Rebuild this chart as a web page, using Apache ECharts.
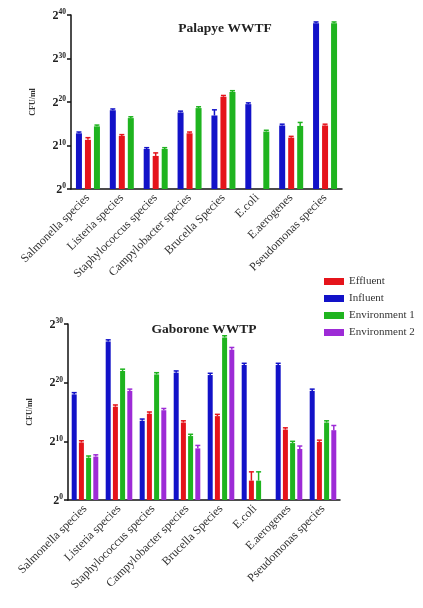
<!DOCTYPE html>
<html><head><meta charset="utf-8">
<script src="https://cdn.jsdelivr.net/npm/echarts@6/dist/echarts.min.js"></script>
<style>html,body{margin:0;padding:0;background:#fff}#c{width:423px;height:608px}</style>
</head><body><div id="c"></div>
<script>
const categories = ['Salmonella species','Listeria species','Staphylococcus species','Campylobacter species','Brucella Species','E.coli','E.aerogenes','Pseudomonas species'];
const yTicks = [0,10,20,30,40];
// Palapye WWTF (exponent of 2, CFU/ml)
const palInfluent = [12.8, 18.1, 9.2, 17.6, 16.9, 19.5, 14.6, 38.1];
const palEffluent = [11.3, 12.2, 7.6, 12.8, 21.2, null, 11.8, 14.6];
const palEnv1     = [14.4, 16.3, 9.2, 18.6, 22.3, 13.2, 14.5, 38.1];
const palErrInfluent = [0.3, 0.3, 0.3, 0.3, 1.3, 0.3, 0.3, 0.3];
const palErrEffluent = [0.5, 0.3, 0.7, 0.3, 0.3, null, 0.3, 0.3];
const palErrEnv1     = [0.3, 0.3, 0.3, 0.3, 0.3, 0.3, 0.8, 0.3];
// Gaborone WWTP
const gabInfluent = [18.0, 27.0, 13.5, 21.7, 21.3, 23.0, 23.0, 18.6];
const gabEffluent = [9.8, 15.9, 14.7, 13.2, 14.3, 3.3, 12.0, 9.9];
const gabEnv1     = [7.2, 22.0, 21.4, 10.9, 27.7, 3.3, 9.7, 13.2];
const gabEnv2     = [7.4, 18.6, 15.3, 8.8, 25.6, null, 8.7, 11.9];
const gabErrInfluent = [0.3, 0.3, 0.3, 0.3, 0.3, 0.3, 0.3, 0.3];
const gabErrEffluent = [0.3, 0.3, 0.3, 0.3, 0.3, 1.5, 0.3, 0.3];
const gabErrEnv1     = [0.3, 0.3, 0.3, 0.3, 0.3, 1.5, 0.3, 0.3];
const gabErrEnv2     = [0.3, 0.3, 0.3, 0.5, 0.4, null, 0.5, 0.8];

const C = {Effluent:'#e5141b', Influent:'#1212c8', 'Environment 1':'#1fb41f', 'Environment 2':'#9d2bd6'};
const FONT = 'Liberation Serif';

function yAxisCfg(gi, max, nameGap){
  return {type:'value', gridIndex:gi, min:0, max:max, interval:10,
    axisLine:{show:true, lineStyle:{color:'#111', width:1.5}},
    axisTick:{show:true, length:4, lineStyle:{color:'#111', width:1.5}},
    splitLine:{show:false},
    axisLabel:{margin:5, formatter:v=>'{b|2}{s|'+v+'}',
      rich:{b:{fontFamily:FONT, fontWeight:'bold', fontSize:12, color:'#222', lineHeight:13, verticalAlign:'bottom'},
            s:{fontFamily:FONT, fontWeight:'bold', fontSize:7.5, color:'#222', lineHeight:13, verticalAlign:'top', padding:[0,0,6,0]}}},
    name:'CFU/ml', nameLocation:'middle', nameGap:nameGap, nameRotate:90,
    nameTextStyle:{fontFamily:FONT, fontWeight:'bold', fontSize:8, color:'#333'}};
}
function xAxisCfg(gi){
  return {type:'category', gridIndex:gi, data:categories, boundaryGap:true,
    axisLine:{lineStyle:{color:'#111', width:1.5}},
    axisTick:{alignWithLabel:true, length:4, lineStyle:{color:'#111', width:1.5}},
    axisLabel:{interval:0, rotate:45, margin:7, fontFamily:FONT, fontSize:12, color:'#333'}};
}
function bars(name, data, gi, bw, gap){
  return {name, type:'bar', xAxisIndex:gi, yAxisIndex:gi, data:data, barWidth:bw, barGap:gap,
    itemStyle:{color:C[name]}, z:2};
}
function errs(name, vals, err, gi, offset){
  const d = vals.map((v,i)=> v==null ? null : [i, v, err[i]]).filter(x=>x);
  return {name, type:'custom', xAxisIndex:gi, yAxisIndex:gi, data:d, z:3, silent:true,
    renderItem:function(params, api){
      const i=api.value(0), v=api.value(1), e=api.value(2);
      const t=api.coord([i, v+e]), b=api.coord([i, v]);
      const cx=t[0]+offset;
      return {type:'group', children:[
        {type:'line', shape:{x1:cx,y1:t[1],x2:cx,y2:b[1]}, style:{stroke:C[name], lineWidth:1.5}},
        {type:'line', shape:{x1:cx-2.5,y1:t[1],x2:cx+2.5,y2:t[1]}, style:{stroke:C[name], lineWidth:1.5}}
      ]};
    }};
}

const chart = echarts.init(document.getElementById('c'), null, {renderer:'canvas'});
chart.setOption({
  backgroundColor:'#fff',
  animation:false,
  title:[
    {text:'Palapye WWTF', left:220, top:17, textAlign:'center', textStyle:{fontFamily:FONT, fontWeight:'bold', fontSize:13.5, color:'#222'}},
    {text:'Gaborone WWTP', left:199, top:318, textAlign:'center', textStyle:{fontFamily:FONT, fontWeight:'bold', fontSize:13.5, color:'#222'}}
  ],
  legend:{orient:'vertical', left:319, top:271, itemWidth:20, itemHeight:7, itemGap:6,
    data:['Effluent','Influent','Environment 1','Environment 2'],
    textStyle:{fontFamily:FONT, fontSize:11, color:'#333'}, icon:'rect'},
  grid:[
    {left:71, right:81, top:15, bottom:419},
    {left:68, right:83, top:324, bottom:108}
  ],
  xAxis:[xAxisCfg(0), xAxisCfg(1)],
  yAxis:[yAxisCfg(0,40,34), yAxisCfg(1,30,34)],
  series:[
    bars('Influent', palInfluent, 0, 6, '50%'),
    bars('Effluent', palEffluent, 0, 6, '50%'),
    bars('Environment 1', palEnv1, 0, 6, '50%'),
    errs('Influent', palInfluent, palErrInfluent, 0, -9),
    errs('Effluent', palEffluent, palErrEffluent, 0, 0),
    errs('Environment 1', palEnv1, palErrEnv1, 0, 9),
    bars('Influent', gabInfluent, 1, 5, '44%'),
    bars('Effluent', gabEffluent, 1, 5, '44%'),
    bars('Environment 1', gabEnv1, 1, 5, '44%'),
    bars('Environment 2', gabEnv2, 1, 5, '44%'),
    errs('Influent', gabInfluent, gabErrInfluent, 1, -10.8),
    errs('Effluent', gabEffluent, gabErrEffluent, 1, -3.6),
    errs('Environment 1', gabEnv1, gabErrEnv1, 1, 3.6),
    errs('Environment 2', gabEnv2, gabErrEnv2, 1, 10.8)
  ]
});
</script></body></html>
